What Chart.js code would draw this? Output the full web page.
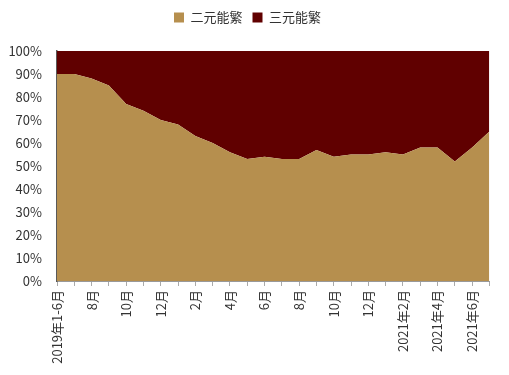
<!DOCTYPE html>
<html>
<head>
<meta charset="utf-8">
<script src="https://cdn.jsdelivr.net/npm/chart.js@4/dist/chart.umd.min.js"></script>
<style>
  html, body { margin: 0; padding: 0; background: #fff; }
</style>
</head>
<body>
<canvas id="chart" width="509" height="375"></canvas>
<script>
// categories: first half of 2019 combined, then monthly to 2021
var categories = ['2019年1-6月', '7月', '8月', '9月', '10月', '11月', '12月',
    '1月', '2月', '3月', '4月', '5月', '6月', '7月', '8月', '9月', '10月', '11月', '12月',
    '2021年1月', '2021年2月', '2021年3月', '2021年4月', '2021年5月', '2021年6月', '2021年7月'];

// share of 二元能繁 (%)
var erYuan = [90, 90, 88, 85, 77, 74, 70, 68, 63, 60, 56, 53, 54, 53, 53, 57,
    54, 55, 55, 56, 55, 58, 58, 52, 58, 65];
// 三元能繁 is the rest of 100%
var sanYuan = erYuan.map(function (v) { return 100 - v; });

var yTicks = [0, 10, 20, 30, 40, 50, 60, 70, 80, 90, 100];

var tan = '#B68F4E';
var darkRed = '#600000';
var labelFont = { family: '"Noto Sans CJK SC", "Noto Sans", sans-serif', size: 13 };

// push the plot area down a bit below the legend
var legendGap = {
    id: 'legendGap',
    beforeInit: function (chart) {
        var fit = chart.legend.fit;
        chart.legend.fit = function () {
            fit.bind(chart.legend)();
            this.height += 17;
        };
    }
};

var chart = new Chart(document.getElementById('chart'), {
    type: 'line',
    data: {
        labels: categories,
        datasets: [{
            label: '二元能繁',
            data: erYuan,
            backgroundColor: tan,
            borderColor: tan,
            borderWidth: 0,
            pointRadius: 0,
            fill: 'origin'
        }, {
            label: '三元能繁',
            data: sanYuan,
            backgroundColor: darkRed,
            borderColor: darkRed,
            borderWidth: 0,
            pointRadius: 0,
            fill: '-1'
        }]
    },
    plugins: [legendGap],
    options: {
        responsive: false,
        animation: false,
        layout: { padding: { left: 0, right: 14, top: 1, bottom: 0 } },
        plugins: {
            tooltip: { enabled: false },
            legend: {
                position: 'top',
                labels: {
                    boxWidth: 10,
                    boxHeight: 10,
                    padding: 10,
                    color: '#333',
                    font: labelFont
                }
            }
        },
        elements: { line: { tension: 0 } },
        scales: {
            x: {
                offset: false,
                grid: {
                    drawOnChartArea: false,
                    drawTicks: true,
                    tickLength: 5,
                    color: '#aaa'
                },
                border: { color: '#999', width: 1 },
                ticks: {
                    autoSkip: false,
                    minRotation: 90,
                    maxRotation: 90,
                    padding: 4,
                    color: '#333',
                    font: labelFont,
                    callback: function (v, i) { return i % 2 === 0 ? categories[i] : ''; }
                },
                afterFit: function (scale) { scale.height = 94; }
            },
            y: {
                stacked: true,
                min: 0,
                max: 100,
                grid: { display: false, drawTicks: false },
                border: { color: '#595959', width: 1.5 },
                afterBuildTicks: function (scale) {
                    scale.ticks = yTicks.map(function (v) { return { value: v }; });
                },
                ticks: {
                    padding: 15,
                    color: '#333',
                    font: labelFont,
                    callback: function (v) { return v + '%'; }
                },
                afterFit: function (scale) { scale.width = 57; }
            }
        }
    }
});
</script>
</body>
</html>
